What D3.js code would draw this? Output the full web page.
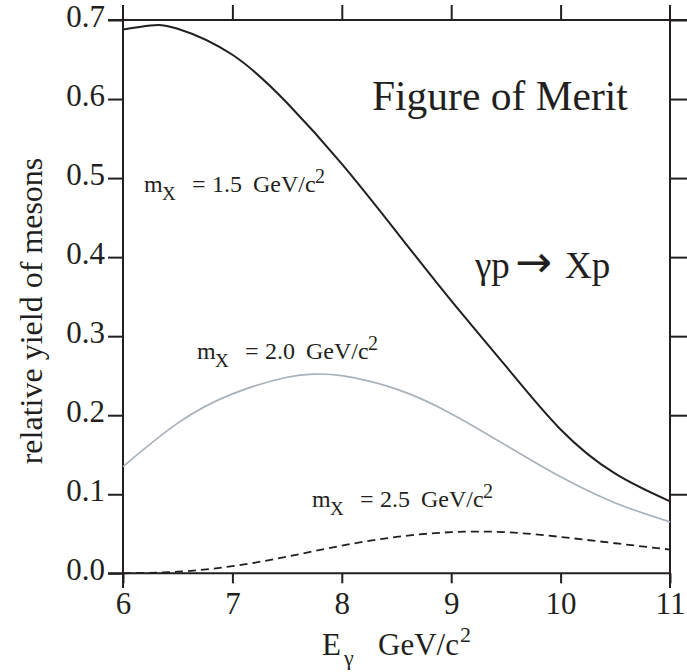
<!DOCTYPE html>
<html>
<head>
<meta charset="utf-8">
<script src="https://cdn.jsdelivr.net/npm/d3@7"></script>
<style>
  body { margin: 0; background: #fff; }
  svg text { font-family: "Liberation Serif", "Times New Roman", serif; fill: #231f20; }
</style>
</head>
<body>
<svg id="chart" width="687" height="672"></svg>
<script>
// photon energy (GeV) sample points
var energy15 = [6.0, 6.25, 6.5, 7.0, 7.5, 8.0, 8.5, 9.0, 9.5, 10.0, 10.5, 11.0];
var yield15  = [0.688, 0.693, 0.689, 0.656, 0.595, 0.518, 0.432, 0.345, 0.262, 0.182, 0.126, 0.091];

var energy20 = [6.0, 6.5, 7.0, 7.5, 7.75, 8.0, 8.5, 9.0, 9.5, 10.0, 10.5, 11.0];
var yield20  = [0.135, 0.190, 0.227, 0.248, 0.252, 0.250, 0.233, 0.202, 0.162, 0.122, 0.089, 0.065];

var energy25 = [6.0, 6.5, 7.0, 7.5, 8.0, 8.5, 9.0, 9.5, 10.0, 10.5, 11.0];
var yield25  = [0.000, 0.002, 0.009, 0.021, 0.035, 0.046, 0.052, 0.052, 0.046, 0.038, 0.030];

var xTicks = [6, 7, 8, 9, 10, 11];
var yTicks = [0.0, 0.1, 0.2, 0.3, 0.4, 0.5, 0.6, 0.7];
var massLabels = ["1.5", "2.0", "2.5"];

var svg = d3.select("#chart");
var ink = "#231f20";

var x = d3.scaleLinear().domain([6, 11]).range([123, 670]);
var y = d3.scaleLinear().domain([0, 0.7]).range([573.3, 20]);

function zip(xs, ys) {
    return xs.map(function(d, i) { return [d, ys[i]]; });
}

// axes
var axLeft = svg.append("g")
    .attr("transform", "translate(" + x(6) + ",0)")
    .call(d3.axisLeft(y).tickValues(yTicks).tickSize(15).tickPadding(3)
        .tickFormat(d3.format(".1f")));
var axRight = svg.append("g")
    .attr("transform", "translate(" + x(11) + ",0)")
    .call(d3.axisRight(y).tickValues(yTicks.slice(1)).tickSize(17).tickFormat(""));
var axTop = svg.append("g")
    .attr("transform", "translate(0," + y(0.7) + ")")
    .call(d3.axisTop(x).tickValues(xTicks.slice(1, -1)).tickSize(15).tickFormat(""));
var axBottom = svg.append("g")
    .attr("transform", "translate(0," + y(0) + ")")
    .call(d3.axisBottom(x).tickValues(xTicks).tickSize(10).tickPadding(9)
        .tickFormat(d3.format("d")));

[axLeft, axRight, axTop, axBottom].forEach(function(g) {
    g.select(".domain").remove();
    g.selectAll("line").attr("stroke", ink).attr("stroke-width", 2);
    g.selectAll("text").attr("font-size", 31).attr("fill", ink)
        .style("font-family", "'Liberation Serif', 'Times New Roman', serif");
});
axLeft.selectAll("text").attr("dy", "0.2em");

// frame lines, sides run past the corners like the original
var frame = [
    [x(6), 5, x(6), 588],
    [x(11), 5, x(11), 588],
    [x(6) - 15, y(0.7), x(11) + 17, y(0.7)],
    [x(6) - 15, y(0), x(11), y(0)]
];
svg.append("g").selectAll("line").data(frame).enter().append("line")
    .attr("x1", function(d) { return d[0]; })
    .attr("y1", function(d) { return d[1]; })
    .attr("x2", function(d) { return d[2]; })
    .attr("y2", function(d) { return d[3]; })
    .attr("stroke", ink)
    .attr("stroke-width", 2);

// curves
var line = d3.line()
    .x(function(d) { return x(d[0]); })
    .y(function(d) { return y(d[1]); })
    .curve(d3.curveNatural);

var series = [
    { pts: zip(energy15, yield15), color: ink, width: 2, dash: null },
    { pts: zip(energy20, yield20), color: "#a9b1b9", width: 1.7, dash: null },
    { pts: zip(energy25, yield25), color: ink, width: 1.8, dash: "8,5" }
];
svg.append("g").selectAll("path").data(series).enter().append("path")
    .attr("d", function(d) { return line(d.pts); })
    .attr("fill", "none")
    .attr("stroke", function(d) { return d.color; })
    .attr("stroke-width", function(d) { return d.width; })
    .attr("stroke-dasharray", function(d) { return d.dash; });

// mass labels: m_X = n GeV/c^2
var labelPos = [[144, 192], [197, 359], [312, 507]];
massLabels.forEach(function(m, i) {
    var px = labelPos[i][0], py = labelPos[i][1];
    var t = svg.append("text").attr("font-size", 24);
    t.append("tspan").attr("x", px).attr("y", py).text("m");
    t.append("tspan").attr("x", px + 18).attr("y", py + 8).attr("font-size", 19).text("X");
    t.append("tspan").attr("x", px + 48).attr("y", py).text("=");
    t.append("tspan").attr("x", px + 68).attr("y", py).text(m);
    t.append("tspan").attr("x", px + 109).attr("y", py).text("GeV/c");
    t.append("tspan").attr("x", px + 171).attr("y", py - 9).attr("font-size", 20).text("2");
});

// titles
svg.append("text").attr("x", 372).attr("y", 110).attr("font-size", 41.5)
    .text("Figure of Merit");
var rx = svg.append("text").attr("y", 278).attr("font-size", 37);
rx.append("tspan").attr("x", 475).text("γp");
rx.append("tspan").attr("x", 515).attr("y", 277)
    .style("font-family", "'DejaVu Sans', sans-serif")
    .attr("font-size", 44).text("→");
rx.append("tspan").attr("x", 565).attr("y", 278).text("Xp");

// axis labels
var xl = svg.append("text").attr("font-size", 31);
xl.append("tspan").attr("x", 322).attr("y", 655).text("E");
xl.append("tspan").attr("x", 344).attr("y", 665).attr("font-size", 22).text("γ");
xl.append("tspan").attr("x", 378).attr("y", 655).text("GeV/c");
xl.append("tspan").attr("x", 460).attr("y", 642).attr("font-size", 22).text("2");

svg.append("text")
    .attr("transform", "translate(42,311) rotate(-90)")
    .attr("text-anchor", "middle")
    .attr("font-size", 32)
    .text("relative yield of mesons");
</script>
</body>
</html>
